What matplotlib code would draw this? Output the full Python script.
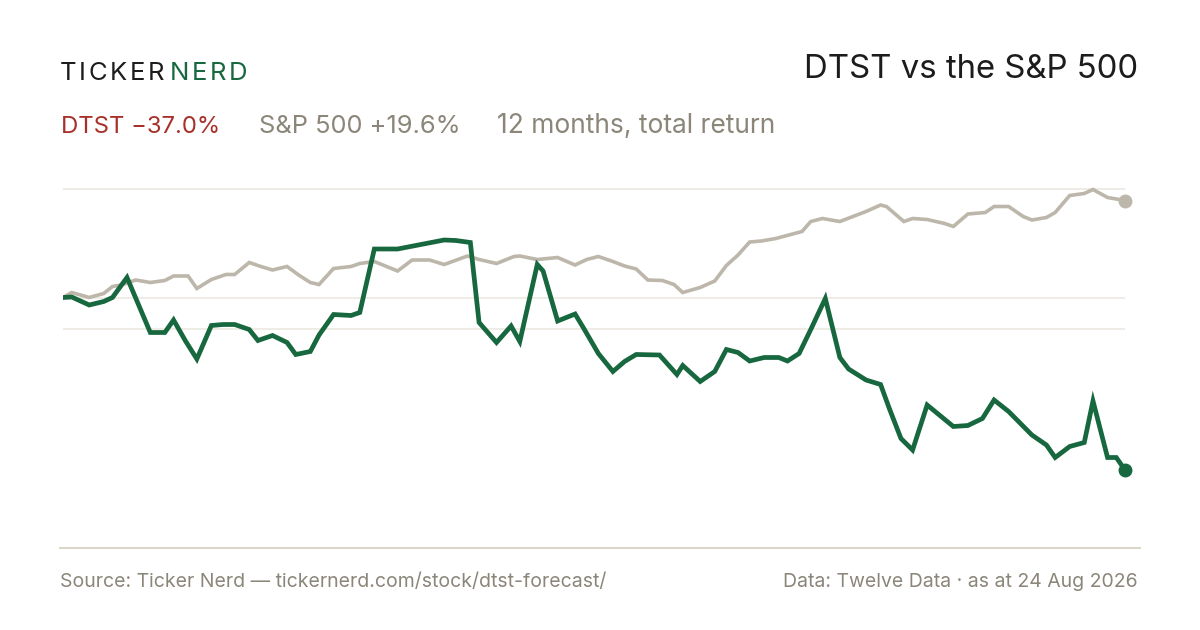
import matplotlib
matplotlib.use("Agg")
import matplotlib.pyplot as plt
from matplotlib.lines import Line2D

plt.rcParams['font.family'] = ['Inter', 'DejaVu Sans']

# days since start of the 12-month window, % total return
dtst_days = [0, 3, 9, 14, 17, 22, 30, 35, 38, 42, 46, 51, 55, 59, 64, 67, 72, 77, 80, 85,
             88, 93, 99, 102, 107, 115, 131, 135, 140, 143, 149, 154, 157, 163, 165, 170,
             176, 179, 184, 189, 193, 197, 205, 211, 213, 219, 224, 228, 232, 236, 241,
             246, 249, 253, 257, 262, 267, 270, 276, 281, 284, 288, 292, 297, 306, 311,
             316, 320, 325, 333, 338, 341, 346, 351, 354, 359, 362, 365]
dtst_ret = [0.0, 0.1, -1.5, -0.8, 0.0, 4.0, -7.0, -7.0, -4.5, -8.6, -12.3, -5.6, -5.4, -5.4,
            -6.4, -8.6, -7.6, -9.0, -11.4, -10.8, -7.5, -3.4, -3.6, -3.0, 9.7, 9.7, 11.5,
            11.4, 11.0, -5.0, -9.0, -5.7, -8.8, 6.6, 5.3, -4.7, -3.3, -6.2, -11.2, -14.8,
            -12.8, -11.4, -11.5, -15.4, -13.6, -16.8, -14.8, -10.4, -11.0, -12.7, -12.0,
            -12.0, -12.7, -11.2, -6.4, -0.2, -12.0, -14.3, -16.5, -17.4, -22.2, -28.2,
            -30.5, -21.5, -25.8, -25.6, -24.2, -20.5, -22.8, -27.5, -29.5, -32.0, -29.8,
            -29.0, -20.7, -32.0, -32.0, -34.5]

spx_days = [0, 3, 9, 14, 17, 20, 25, 30, 35, 38, 43, 46, 51, 56, 59, 64, 68, 72, 77, 81,
            85, 88, 93, 99, 102, 107, 115, 120, 126, 131, 139, 143, 149, 155, 157, 163,
            170, 176, 180, 184, 189, 193, 197, 201, 206, 210, 213, 219, 224, 228, 232,
            236, 240, 245, 254, 257, 261, 267, 276, 281, 283, 289, 292, 297, 303, 306,
            311, 317, 320, 325, 330, 333, 338, 341, 346, 351, 354, 359, 365]
spx_ret = [0.0, 1.0, 0.0, 0.8, 2.2, 2.5, 3.5, 3.0, 3.4, 4.3, 4.3, 1.8, 3.6, 4.6, 4.6, 7.0,
           6.2, 5.5, 6.2, 4.5, 3.0, 2.6, 5.8, 6.2, 6.8, 7.2, 5.3, 7.5, 7.5, 6.6, 8.3, 7.6,
           6.8, 8.2, 8.3, 7.6, 8.0, 6.5, 7.6, 8.2, 7.2, 6.3, 5.7, 3.5, 3.4, 2.6, 1.0, 2.0,
           3.3, 6.4, 8.5, 11.1, 11.3, 11.8, 13.2, 15.2, 15.8, 15.2, 17.2, 18.5, 18.2, 15.2,
           15.8, 15.6, 14.8, 14.2, 16.7, 17.0, 18.2, 18.2, 16.2, 15.5, 16.0, 17.0, 20.4,
           20.8, 21.6, 20.0, 19.4]

grid_levels = [21.7, 0.0, -6.3]

GREEN = '#17673f'
SAND = '#bdb6aa'
RED = '#a8302a'
MUTED = '#8b8679'
INK = '#1c1c1c'

W, H = 1200, 630
fig = plt.figure(figsize=(W / 100, H / 100), dpi=100)
fig.patch.set_facecolor('white')

# axes spans pixel x 63..1125, y 160..540
ax = fig.add_axes([63 / W, 1 - 540 / H, (1125 - 63) / W, (540 - 160) / H])
ax.set_xlim(0, 365)
ax.set_ylim(-48.5, 27.5)
for s in ax.spines.values():
    s.set_visible(False)
ax.set_xticks([])
ax.set_yticks([])
for g in grid_levels:
    ax.axhline(g, color='#ebe7df', lw=1.1, zorder=1)

ax.plot(spx_days, spx_ret, color=SAND, lw=2.6, solid_joinstyle='miter', zorder=2)
ax.plot(dtst_days, dtst_ret, color=GREEN, lw=3.4, solid_joinstyle='miter', zorder=3)
ax.plot(spx_days[-1], spx_ret[-1], 'o', color=SAND, ms=9, zorder=4, clip_on=False)
ax.plot(dtst_days[-1], dtst_ret[-1], 'o', color=GREEN, ms=9, zorder=4, clip_on=False)

# bottom rule
fig.add_artist(Line2D([60 / W, 1140 / W], [1 - 548 / H, 1 - 548 / H],
                      color='#dcd7cc', lw=1.5))

# letter-spaced wordmark
renderer = fig.canvas.get_renderer()
x = 60.0
for word, col in [('TICKER', INK), ('NERD', GREEN)]:
    for ch in word:
        t = fig.text(x / W, 1 - 79.5 / H, ch, fontsize=18.5, color=col, va='baseline')
        bb = t.get_window_extent(renderer)
        x += bb.width + 2.6
    x += 3

fig.text(1138 / W, 1 - 78.5 / H, 'DTST vs the S&P 500', fontsize=23.7, color=INK,
         ha='right', va='baseline')

fig.text(61 / W, 1 - 133 / H, 'DTST \u221237.0%', fontsize=17.2, color=RED, va='baseline')
fig.text(259 / W, 1 - 133 / H, 'S&P 500 +19.6%', fontsize=18.3, color=MUTED, va='baseline')
fig.text(497 / W, 1 - 133 / H, '12 months, total return', fontsize=19, color=MUTED,
         va='baseline')

fig.text(60 / W, 1 - 587 / H, 'Source: Ticker Nerd \u2014 tickernerd.com/stock/dtst-forecast/',
         fontsize=14, color=MUTED, va='baseline')
fig.text(1138 / W, 1 - 587 / H, 'Data: Twelve Data \u00b7 as at 24 Aug 2026',
         fontsize=14, color=MUTED, ha='right', va='baseline')

fig.savefig('out.png', dpi=100, facecolor='white')
